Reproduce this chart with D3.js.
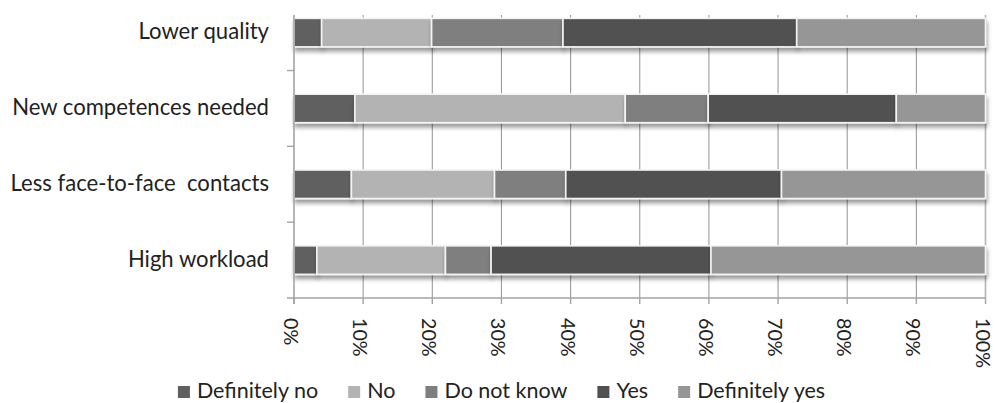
<!DOCTYPE html>
<html><head><meta charset="utf-8">
<script src="https://cdn.jsdelivr.net/npm/d3@7"></script>
<style>
html,body{margin:0;padding:0;background:#fff;}
svg{display:block;}
text{font-family:Lato,"Open Sans",sans-serif;fill:#222;}
</style></head>
<body>
<svg id="chart" width="995" height="403"></svg>
<script>
const categories = ["Lower quality", "New competences needed", "Less face-to-face  contacts", "High workload"];
const seriesNames = ["Definitely no", "No", "Do not know", "Yes", "Definitely yes"];
const definitelyNo  = [4.0, 8.8, 8.3, 3.3];
const no            = [15.9, 39.1, 20.7, 18.6];
const doNotKnow     = [19.0, 12.0, 10.3, 6.6];
const yes           = [33.8, 27.2, 31.2, 31.8];
const definitelyYes = [27.3, 12.9, 29.5, 39.7];
const tickValues = [0, 10, 20, 30, 40, 50, 60, 70, 80, 90, 100];
const colors = ["#606060", "#b3b3b3", "#7f7f7f", "#515151", "#969696"];

(function () {
const seriesValues = [definitelyNo, no, doNotKnow, yes, definitelyYes];
const rows = categories.map((c, i) => {
  const r = {category: c};
  seriesNames.forEach((s, j) => r[s] = seriesValues[j][i]);
  return r;
});

const svg = d3.select("#chart");
const pLeft = 294, pRight = 985.5, pTop = 15, pBottom = 298;

const x = d3.scaleLinear().domain([0, 100]).range([pLeft, pRight]);
const pi = 0.624;
const y = d3.scaleBand().domain(categories).range([-5.3, pBottom]).paddingInner(pi).paddingOuter(pi / 2);
const step = y.step();

const defs = svg.append("defs");
const f = defs.append("filter").attr("id", "sh").attr("x", "-5%").attr("y", "-30%").attr("width", "110%").attr("height", "180%");
f.append("feGaussianBlur").attr("in", "SourceAlpha").attr("stdDeviation", 2.2).attr("result", "b");
f.append("feOffset").attr("in", "b").attr("dx", 1).attr("dy", 3.5).attr("result", "o");
f.append("feComponentTransfer").attr("in", "o").attr("result", "o2")
  .append("feFuncA").attr("type", "linear").attr("slope", 0.4);
const m = f.append("feMerge");
m.append("feMergeNode").attr("in", "o2");
m.append("feMergeNode").attr("in", "SourceGraphic");

// gridlines
svg.append("g").selectAll("line").data(tickValues.filter(d => d > 0)).join("line")
  .attr("x1", d => x(d)).attr("x2", d => x(d))
  .attr("y1", pTop).attr("y2", pBottom)
  .attr("stroke", d => d === 100 ? "#b4b4b4" : "#9c9c9c").attr("stroke-width", d => d === 100 ? 1.6 : 1.1);

// bars
const stack = d3.stack().keys(seriesNames)(rows);
const gBars = svg.append("g");
stack.forEach((layer, j) => {
  gBars.append("g").attr("filter", "url(#sh)").selectAll("rect").data(layer).join("rect")
    .attr("x", d => x(d[0]))
    .attr("width", d => x(d[1]) - x(d[0]))
    .attr("y", d => y(d.data.category))
    .attr("height", y.bandwidth())
    .attr("fill", colors[j])
    .attr("stroke", "#f4f4f4")
    .attr("stroke-width", 1.6);
});

// axes
const axisColor = "#a3a3a3";
svg.append("line").attr("x1", pLeft).attr("x2", pLeft).attr("y1", pTop).attr("y2", pBottom + 6)
  .attr("stroke", axisColor).attr("stroke-width", 1.6);
svg.append("line").attr("x1", pLeft - 7).attr("x2", pRight).attr("y1", pBottom).attr("y2", pBottom)
  .attr("stroke", axisColor).attr("stroke-width", 1.6);
const boundaries = categories.map(c => y(c) - (step - y.bandwidth()) / 2).filter(v => v > pTop);
svg.append("g").selectAll("line").data(boundaries).join("line")
  .attr("x1", pLeft - 7).attr("x2", pLeft).attr("y1", d => d).attr("y2", d => d)
  .attr("stroke", axisColor).attr("stroke-width", 1.4);
svg.append("g").selectAll("line").data(tickValues).join("line")
  .attr("x1", d => x(d)).attr("x2", d => x(d)).attr("y1", pBottom).attr("y2", pBottom + 6)
  .attr("stroke", axisColor).attr("stroke-width", 1.4);

function fitSize(sample, target) {
  const t = svg.append("text").style("font-size", "100px").style("white-space", "pre").text(sample);
  const w = t.node().getComputedTextLength();
  t.remove();
  return 100 * target / w;
}

const catSize = fitSize("New competences needed", 257);
svg.append("g").selectAll("text").data(categories).join("text")
  .attr("x", 269)
  .attr("y", d => y(d) + y.bandwidth() / 2 + 6.8)
  .attr("text-anchor", "end")
  .style("white-space", "pre")
  .style("font-size", catSize + "px")
  .text(d => d);

const tickSize = fitSize("100%", 50);
svg.append("g").selectAll("text").data(tickValues).join("text")
  .attr("transform", d => `translate(${x(d) - 10},318) rotate(90)`)
  .attr("text-anchor", "start")
  .style("font-size", tickSize + "px")
  .text(d => d + "%");

const legSize = fitSize("Definitely yes", 128);
const sq = 12, gapText = 19, gapItem = 30;
const widths = seriesNames.map(s => {
  const t = svg.append("text").style("font-size", legSize + "px").text(s);
  const w = t.node().getComputedTextLength(); t.remove(); return w;
});
const totalW = d3.sum(widths) + seriesNames.length * gapText + (seriesNames.length - 1) * gapItem;
let lx = 501.5 - totalW / 2;
const legend = svg.append("g");
seriesNames.forEach((s, i) => {
  legend.append("rect").attr("x", lx).attr("y", 386).attr("width", sq).attr("height", sq).attr("fill", colors[i]);
  legend.append("text").attr("x", lx + gapText).attr("y", 397.5).style("font-size", legSize + "px").text(s);
  lx += gapText + widths[i] + gapItem;
});
})();
</script>
</body></html>
